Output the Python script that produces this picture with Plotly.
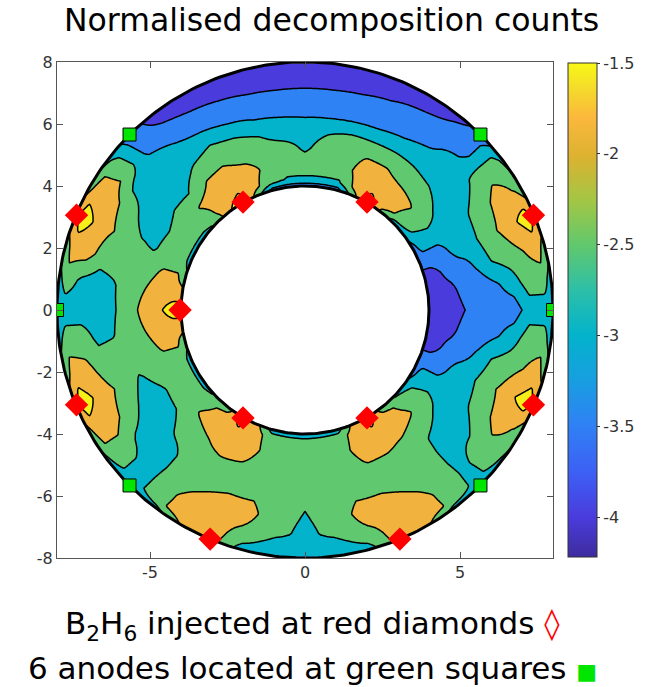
import numpy as np
import plotly.graph_objects as go

# ---------------- data ----------------
# polar table of log10(normalised decomposition counts)
ANGLES_DEG = [0.0, 7.5, 15.0, 22.5, 30.0, 37.5, 45.0, 52.5, 60.0, 67.5, 75.0, 82.5,
              90.0, 97.5, 105.0, 112.5, 120.0, 127.5, 135.0, 142.5, 150.0, 157.5, 165.0, 172.5,
              180.0, 187.5, 195.0, 202.5, 210.0, 217.5, 225.0, 232.5, 240.0, 247.5, 255.0, 262.5,
              270.0, 277.5, 285.0, 292.5, 300.0, 307.5, 315.0, 322.5, 330.0, 337.5, 345.0, 352.5]
RADII = [4.0, 4.25, 4.75, 5.25, 5.75, 6.25, 6.75, 7.25, 7.75, 8.0]
LOG_COUNTS = [
    [-4.0, -4.0, -4.0, -3.7, -3.5, -3.5, -3.5, -3.0, -3.0, -3.0],      # 0
    [-4.0, -4.0, -3.9, -3.5, -3.5, -3.3, -3.0, -2.5, -2.5, -3.0],      # 7.5
    [-4.0, -4.0, -3.6, -3.5, -3.14, -2.71, -2.5, -2.28, -2.0, -2.5],   # 15
    [-3.5, -3.5, -3.5, -3.0, -3.0, -2.5, -2.22, -1.86, -1.5, -1.8],    # 22.5
    [-3.5, -3.0, -3.0, -3.0, -3.0, -2.64, -2.36, -2.0, -2.28, -2.6],   # 30
    [-3.0, -2.7, -2.5, -2.78, -3.0, -3.0, -2.72, -2.5, -2.5, -2.9],    # 37.5
    [-3.0, -2.35, -2.2, -2.5, -2.81, -3.0, -3.0, -3.5, -3.5, -3.6],    # 45
    [-2.4, -2.0, -2.0, -2.42, -2.72, -3.0, -3.36, -3.5, -3.78, -4.0],  # 52.5
    [-1.5, -1.69, -2.0, -2.22, -2.64, -3.14, -3.5, -3.5, -4.1, -4.1],  # 60
    [-2.5, -2.1, -2.0, -2.22, -2.64, -3.22, -3.5, -3.71, -4.1, -4.1],  # 67.5
    [-3.5, -2.8, -2.5, -2.5, -2.63, -3.24, -3.5, -3.78, -4.1, -4.1],   # 75
    [-3.5, -2.8, -2.5, -2.5, -2.78, -3.27, -3.5, -3.81, -4.1, -4.1],   # 82.5
    [-3.5, -2.8, -2.5, -2.86, -3.0, -3.27, -3.5, -3.81, -4.1, -4.1],   # 90
    [-3.5, -2.8, -2.5, -2.5, -3.0, -3.24, -3.5, -3.81, -4.1, -4.1],    # 97.5
    [-3.5, -2.6, -2.4, -2.5, -2.72, -3.19, -3.5, -3.78, -4.1, -4.1],   # 105
    [-2.5, -2.1, -2.0, -2.36, -2.5, -3.0, -3.5, -3.71, -4.1, -4.1],    # 112.5
    [-1.5, -1.69, -2.0, -2.19, -2.5, -2.82, -3.36, -3.6, -4.1, -4.1],  # 120
    [-1.8, -1.9, -2.0, -2.26, -2.64, -3.0, -3.22, -3.5, -3.86, -4.0],  # 127.5
    [-2.7, -2.4, -2.2, -2.72, -3.0, -3.0, -3.0, -3.36, -3.5, -3.5],    # 135
    [-3.0, -2.5, -2.5, -2.72, -3.0, -3.0, -3.0, -2.38, -2.5, -2.9],    # 142.5
    [-3.0, -2.5, -2.55, -2.88, -3.0, -2.72, -2.36, -2.0, -2.0, -2.5],  # 150
    [-3.0, -2.5, -2.5, -2.8, -2.7, -2.5, -2.19, -1.86, -1.5, -1.8],    # 157.5
    [-2.6, -2.2, -2.2, -2.45, -2.5, -2.5, -2.5, -2.0, -2.0, -2.6],     # 165
    [-2.0, -2.0, -2.0, -2.28, -2.5, -2.81, -3.0, -2.86, -2.5, -2.9],   # 172.5
    [-1.5, -1.5, -1.86, -2.14, -2.5, -2.86, -3.0, -3.0, -3.0, -3.1],   # 180
    [-2.0, -2.0, -2.0, -2.28, -2.5, -2.78, -2.86, -2.5, -2.5, -2.9],   # 187.5
    [-2.6, -2.2, -2.2, -2.45, -2.5, -2.5, -2.5, -2.14, -2.0, -2.6],    # 195
    [-3.0, -2.5, -2.5, -2.6, -2.8, -2.5, -2.19, -1.86, -1.5, -1.8],    # 202.5
    [-3.0, -2.5, -2.5, -2.81, -3.0, -2.72, -2.36, -2.0, -2.0, -2.5],   # 210
    [-3.0, -2.5, -2.5, -2.76, -3.0, -3.0, -2.86, -2.5, -2.5, -2.9],    # 217.5
    [-2.7, -2.35, -2.2, -2.5, -2.64, -3.0, -3.0, -3.0, -3.0, -3.1],    # 225
    [-2.5, -2.1, -2.0, -2.31, -2.5, -2.5, -2.5, -2.4, -2.35, -3.0],    # 232.5
    [-1.5, -1.69, -2.0, -2.08, -2.5, -2.5, -2.26, -2.0, -2.0, -2.2],   # 240
    [-2.1, -2.0, -2.0, -2.22, -2.5, -2.36, -2.0, -2.0, -2.0, -2.0],    # 247.5
    [-3.0, -2.5, -2.4, -2.5, -2.5, -2.3, -2.1, -2.3, -2.7, -3.0],      # 255
    [-3.0, -2.55, -2.5, -2.5, -2.55, -2.6, -2.62, -2.64, -3.0, -3.0],  # 262.5
    [-3.0, -2.6, -2.5, -2.55, -2.65, -2.72, -2.78, -2.85, -3.0, -3.0], # 270
    [-3.0, -2.55, -2.5, -2.5, -2.55, -2.6, -2.62, -2.64, -3.0, -3.0],  # 277.5
    [-3.0, -2.5, -2.4, -2.5, -2.5, -2.3, -2.1, -2.3, -2.7, -3.0],      # 285
    [-2.1, -2.0, -2.0, -2.2, -2.5, -2.36, -2.0, -2.0, -2.0, -2.0],     # 292.5
    [-1.5, -1.69, -2.0, -2.2, -2.5, -2.5, -2.26, -2.0, -2.0, -2.2],    # 300
    [-2.5, -2.1, -2.0, -2.31, -2.5, -2.5, -2.5, -2.4, -2.35, -3.0],    # 307.5
    [-2.8, -2.35, -2.2, -2.5, -2.8, -2.85, -2.85, -2.85, -2.9, -3.0],  # 315
    [-3.0, -2.7, -2.5, -2.78, -3.0, -3.0, -2.72, -2.5, -2.5, -2.9],    # 322.5
    [-3.5, -3.0, -3.0, -3.0, -3.0, -2.64, -2.36, -2.0, -2.28, -2.6],   # 330
    [-3.5, -3.5, -3.5, -3.0, -2.9, -2.5, -2.2, -1.8, -1.5, -1.8],      # 337.5
    [-4.0, -4.0, -3.6, -3.5, -3.14, -2.71, -2.5, -2.28, -2.0, -2.5],   # 345
    [-4.0, -4.0, -3.9, -3.5, -3.5, -3.3, -3.0, -2.5, -2.5, -3.0],      # 352.5
]

# injection points (red diamonds) and anodes (green squares)
DIAMOND_X = [7.37, 2.0, -2.0, -7.37, -4.03, -7.37, -2.0, 2.0, 7.37, -3.06, 3.06]
DIAMOND_Y = [3.06, 3.48, 3.48, 3.06, 0.0, -3.06, -3.48, -3.48, -3.06, -7.39, -7.39]
ANODE_X = [8.0, 5.66, -5.66, -8.0, -5.66, 5.66]
ANODE_Y = [0.0, 5.66, 5.66, 0.0, -5.66, -5.66]

X_TICKS = [-5, 0, 5]
Y_TICKS = [-8, -6, -4, -2, 0, 2, 4, 6, 8]
CBAR_TICKS = [-4.0, -3.5, -3.0, -2.5, -2.0, -1.5]
Z_MIN, Z_MAX = -4.22, -1.5
R_IN, R_OUT = 4.0, 8.0

# ---------------- resample the polar table onto a cartesian grid ----------------
tab = np.array(LOG_COUNTS, dtype=float)
tab = np.vstack([tab, tab[:1]])           # periodic in angle
ang = np.array(ANGLES_DEG + [360.0])
rad = np.array(RADII)

g = np.linspace(-8.1, 8.1, 325)
XX, YY = np.meshgrid(g, g)
RR = np.hypot(XX, YY)
TT = np.degrees(np.arctan2(YY, XX)) % 360.0

i = np.clip(np.searchsorted(ang, TT, side="right") - 1, 0, len(ang) - 2)
t = (TT - ang[i]) / (ang[i + 1] - ang[i])
rc = np.clip(RR, rad[0], rad[-1])
j = np.clip(np.searchsorted(rad, rc, side="right") - 1, 0, len(rad) - 2)
u = (rc - rad[j]) / (rad[j + 1] - rad[j])
Z = ((1 - t) * (1 - u) * tab[i, j] + (1 - t) * u * tab[i, j + 1]
     + t * (1 - u) * tab[i + 1, j] + t * u * tab[i + 1, j + 1])
Z[(RR < R_IN) | (RR > R_OUT)] = np.nan
Z = np.where(np.isnan(Z), None, np.round(Z, 3)).tolist()

BAND_COLORS = ["#4a3cdc", "#2f82f4", "#03b3cb", "#60c86e", "#f1b23e", "#f5ee1a"]
band_scale = [[k / (len(BAND_COLORS) - 1), c] for k, c in enumerate(BAND_COLORS)]

CBAR_SCALE = [[0.0, "#3d2c9e"], [0.08, "#4a3cdc"], [0.17, "#3d5ff5"], [0.27, "#2f82f4"],
              [0.36, "#179fe0"], [0.45, "#03b3cb"], [0.54, "#2dbfa8"], [0.63, "#60c86e"],
              [0.72, "#a2c645"], [0.81, "#dcb231"], [0.89, "#fbb83c"], [0.95, "#f5dc2a"],
              [1.0, "#f8f815"]]

FONT = "DejaVu Sans"

fig = go.Figure()
fig.add_trace(go.Contour(
    x=g, y=g, z=Z, autocontour=False,
    contours=dict(start=-3.75, end=-1.75, size=0.5, coloring="fill", showlines=True),
    line=dict(color="black", width=1.5, smoothing=1.0),
    colorscale=band_scale, showscale=False, connectgaps=False, hoverinfo="skip",
))

th = np.linspace(0, 2 * np.pi, 361)
for R in (R_IN, R_OUT):
    fig.add_trace(go.Scatter(x=R * np.cos(th), y=R * np.sin(th), mode="lines",
                             line=dict(color="black", width=3), hoverinfo="skip",
                             showlegend=False))

fig.add_trace(go.Scatter(x=DIAMOND_X, y=DIAMOND_Y, mode="markers", showlegend=False,
                         marker=dict(symbol="diamond", size=18, color="#ff0000",
                                     line=dict(width=0)), hoverinfo="skip"))
fig.add_trace(go.Scatter(x=ANODE_X, y=ANODE_Y, mode="markers", showlegend=False,
                         marker=dict(symbol="square", size=13, color="#00e600",
                                     line=dict(color="black", width=1)), hoverinfo="skip"))

# continuous colour bar
fig.add_trace(go.Scatter(
    x=[100, 100], y=[100, 100], mode="markers", showlegend=False, hoverinfo="skip",
    marker=dict(color=[Z_MIN, Z_MAX], cmin=Z_MIN, cmax=Z_MAX, colorscale=CBAR_SCALE,
                showscale=True, size=1,
                colorbar=dict(x=1.0302, xanchor="left", xpad=0, y=0.5, yanchor="middle",
                              ypad=0, thickness=29, lenmode="pixels", len=494,
                              outlinewidth=1, outlinecolor="#333333",
                              tickvals=CBAR_TICKS,
                              ticktext=[("%g" % v) for v in CBAR_TICKS],
                              ticks="outside", ticklen=3, tickcolor="#333333",
                              tickfont=dict(family=FONT, size=16, color="#333333"))),
))

axis_common = dict(showline=True, linecolor="#555555", linewidth=1, mirror="ticks",
                   ticks="inside", ticklen=6, tickcolor="#555555", showgrid=False,
                   zeroline=False, tickfont=dict(family=FONT, size=16, color="#333333"),
                   fixedrange=True)
fig.update_xaxes(range=[-8, 8], tickvals=X_TICKS, ticktext=[str(v) for v in X_TICKS],
                 **axis_common)
fig.update_yaxes(range=[-8, 8], tickvals=Y_TICKS, ticktext=[str(v) for v in Y_TICKS],
                 **axis_common)

fig.update_layout(
    width=652, height=687, margin=dict(l=57, r=99, t=62, b=129),
    paper_bgcolor="white", plot_bgcolor="white", hovermode=False, showlegend=False,
    annotations=[
        dict(text="Normalised decomposition counts", xref="paper", yref="paper",
             x=(331 - 57) / 496, y=(558 - 20) / 496, xanchor="center", yanchor="middle",
             showarrow=False, font=dict(family=FONT, size=31.5, color="black")),
        dict(text="B<sub>2</sub>H<sub>6</sub> injected at red diamonds "
                  "<span style='color:#ff0000'>◊</span>",
             xref="paper", yref="paper", x=(312 - 57) / 496, y=(558 - 625) / 496,
             xanchor="center", yanchor="middle", showarrow=False,
             font=dict(family=FONT, size=31, color="black")),
        dict(text="6 anodes located at green squares "
                  "<span style='color:#00e600;font-size:22px'>■</span>",
             xref="paper", yref="paper", x=(312 - 57) / 496, y=(558 - 668) / 496,
             xanchor="center", yanchor="middle", showarrow=False,
             font=dict(family=FONT, size=31, color="black")),
    ],
)

fig.write_html("out.html")
